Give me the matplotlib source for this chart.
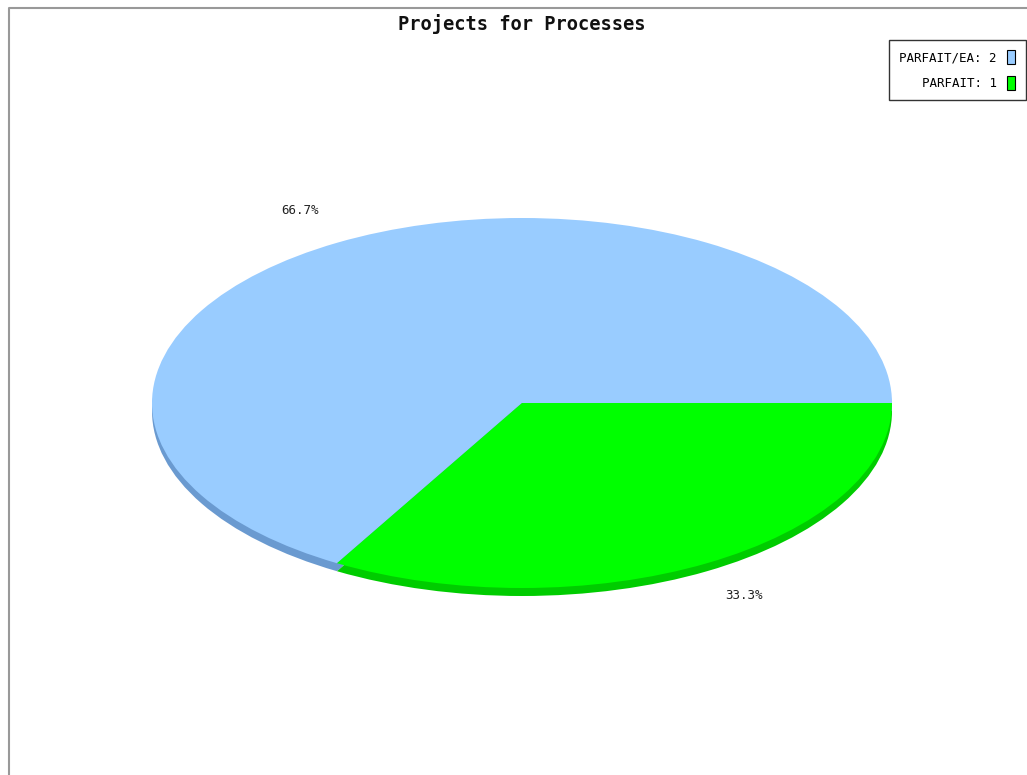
import matplotlib
matplotlib.use("Agg")
import matplotlib.pyplot as plt
from matplotlib.lines import Line2D
from matplotlib.patches import Patch

# Data
categories = ["PARFAIT/EA", "PARFAIT"]
values = [2, 1]
colors = ["#99ccff", "#00ff00"]
side_colors = ["#6a9ad0", "#00cc00"]
title = "Projects for Processes"

W, H = 1027, 775
fig = plt.figure(figsize=(W / 100, H / 100), dpi=100)
fig.patch.set_facecolor("white")

mono = ["DejaVu Sans Mono"]

# pie geometry (pixels)
cx, cy, rx, ry = 522, 403, 370, 185
depth = 8
ax = fig.add_axes([(cx - rx) / W, (H - (cy + ry)) / H, 2 * rx / W, 2 * ry / H])

# side / depth layer
ax.pie(values, colors=side_colors, startangle=0, counterclock=True,
       center=(0, -depth / ry), radius=1.0,
       wedgeprops=dict(linewidth=0))
# top surface
wedges, texts, autotexts = ax.pie(
    values, colors=colors, startangle=0, counterclock=True,
    autopct=lambda p: f"{p:.1f}%", pctdistance=1.2,
    wedgeprops=dict(linewidth=0),
    textprops=dict(family=mono, fontsize=9, color="#222222"))
ax.set_aspect("auto")
ax.set_xlim(-1, 1)
ax.set_ylim(-1, 1)
ax.axis("off")

fig.text(cx / W, 1 - 24 / H, title, ha="center", va="center",
         family=mono, fontsize=13.5, fontweight="bold", color="#111111")

handles = [Patch(facecolor=c, edgecolor="black", linewidth=0.8) for c in colors]
labels = [f"{n}: {v}" for n, v in zip(categories, values)]
leg = fig.legend(handles, labels, loc="upper right",
                 bbox_to_anchor=(1025.5 / W, 1 - 39.5 / H),
                 bbox_transform=fig.transFigure,
                 markerfirst=False, fancybox=False, shadow=False,
                 prop=dict(family=mono, size=9),
                 handlelength=0.6, handleheight=1.35, handletextpad=0.85,
                 labelspacing=0.9, borderpad=0.85, borderaxespad=0)
leg.get_frame().set_edgecolor("black")
leg.get_frame().set_linewidth(1.0)

# image border (left and top)
fig.add_artist(Line2D([8.5 / W, 8.5 / W, 1.0], [0.0, 1 - 7.5 / H, 1 - 7.5 / H],
                      transform=fig.transFigure, color="#999999", linewidth=1.5))

fig.savefig("out.png", dpi=100, facecolor="white")
